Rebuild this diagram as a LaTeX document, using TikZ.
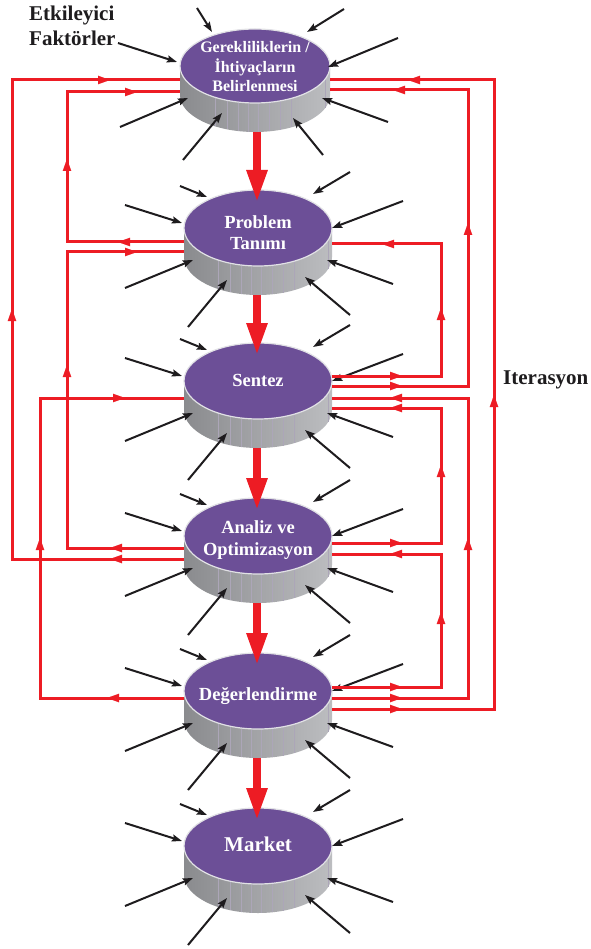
\documentclass[tikz,border=0pt]{standalone}
\usepackage{fontspec}
\setmainfont{Liberation Serif}
\usetikzlibrary{arrows.meta,calc}
\definecolor{dpurple}{RGB}{108,79,151}
\definecolor{dred}{RGB}{237,28,36}
\definecolor{sideL}{RGB}{138,139,142}
\definecolor{sideM}{RGB}{163,164,167}
\definecolor{sideR}{RGB}{188,189,192}
\definecolor{panelc}{RGB}{172,166,184}
\definecolor{blk}{RGB}{30,28,30}
\definecolor{rimc}{RGB}{225,225,229}

\newcommand\drawdisk[5]{%
  \shade[left color=sideL, middle color=sideM, right color=sideR]
    (#1-#3,#2) -- (#1-#3,#2+#5)
    arc[start angle=180,end angle=360,x radius=#3pt,y radius=#4pt]
    -- (#1+#3,#2)
    arc[start angle=0,end angle=-180,x radius=#3pt,y radius=#4pt] -- cycle;
  \foreach \dx in {-40,-28,-17,-7,3,14,25,36,70}{
    \pgfmathsetmacro\yt{#2+#4*sqrt(1-(\dx/#3)^2)}
    \draw[panelc, line width=0.45pt] (#1+\dx,\yt) -- (#1+\dx,\yt+#5);
  }
  \fill[dpurple] (#1,#2) ellipse[x radius=#3pt,y radius=#4pt];
  \draw[rimc, line width=1.2pt] (#1,#2) ellipse[x radius=#3pt,y radius=#4pt];
}

\begin{document}
\begin{tikzpicture}[x=1pt,y=-1pt,
  disklabel/.style={text=white, font=\bfseries\fontsize{18.5}{21}\selectfont, align=center, inner sep=0pt},
  rline/.style={draw=dred, line width=3pt},
  rtip/.style={draw=dred, fill=dred, line width=0.1pt, -{Triangle[length=12pt,width=8.5pt]}},
  bigarrow/.style={draw=dred, line width=8pt, -{Triangle[length=33pt,width=19pt]}},
  blkarrow/.style={draw=blk, line width=2pt, -{Stealth[length=10pt,width=7pt,inset=1.5pt]}},
  blacklabel/.style={text=blk, font=\bfseries\fontsize{21}{25}\selectfont, inner sep=0pt}
]
\useasboundingbox (0,0) rectangle (590,949);
\fill[white] (0,0) rectangle (590,949);

% disks
\drawdisk{255}{66}{75}{37}{29}
\drawdisk{258}{228}{74}{38}{29}
\drawdisk{258}{381}{74}{38}{29}
\drawdisk{258}{536}{74}{38}{29}
\drawdisk{258}{691}{74}{38}{29}
\drawdisk{258}{846}{74}{38}{29}

\coordinate (c1) at (255,66);
\coordinate (c2) at (258,228);
\coordinate (c3) at (258,381);
\coordinate (c4) at (258,536);
\coordinate (c5) at (258,691);
\coordinate (c6) at (258,846);

% labels
\node[disklabel, font=\bfseries\fontsize{16}{19.5}\selectfont] (d1) at (255,67) {Gerekliliklerin /\\İhtiyaçların\\Belirlenmesi};
\node[disklabel] (d2) at (258,232.4) {Problem\\Tanımı};
\node[disklabel] (d3) at (258,380) {Sentez};
\node[disklabel, font=\bfseries\fontsize{18.5}{22}\selectfont] (d4) at (258,540) {Analiz ve\\Optimizasyon};
\node[disklabel] (d5) at (258,696) {Değerlendirme};
\node[disklabel, font=\bfseries\fontsize{21}{25}\selectfont] (d6) at (258,844.6) {Market};
\node[blacklabel, anchor=west, align=left] (ef) at (29,25.5) {Etkileyici\\Faktörler};
\node[blacklabel, anchor=base west] (it) at (503,384) {Iterasyon};

% black influence arrows
\foreach \c in {c2,c3,c4,c5,c6}{
  \foreach \ax/\ay/\bx/\by in {-78/-42/-51/-31, -133/-23/-76/-5, -133/60/-65/32, -70/99/-31/52,
                              92/-56/55/-34, 145/-27/74/0, 135/56/69/32, 92/87/47/49}{
    \draw[blkarrow] ($(\c)+(\ax,\ay)$) -- ($(\c)+(\bx,\by)$);
  }
}
\foreach \ax/\ay/\bx/\by in {-58/-58/-43/-34, -137/-23/-78/-4, -135/61/-67/32, -72/94/-33/47,
                            89/-57/52/-34, 143/-28/73/1, 133/56/67/32, 68/89/38/52}{
  \draw[blkarrow] ($(c1)+(\ax,\ay)$) -- ($(c1)+(\bx,\by)$);
}

% ports
\coordinate (d1wA) at (180,80);  \coordinate (d1wB) at (180,92);
\coordinate (d2wA) at (184,242); \coordinate (d2wB) at (184,252);
\coordinate (d3wA) at (184,398);
\coordinate (d4wA) at (184,548); \coordinate (d4wB) at (184,559);
\coordinate (d5wA) at (184,698);
\coordinate (d1eA) at (330,80);  \coordinate (d1eB) at (330,90);
\coordinate (d2eA) at (332,244);
\coordinate (d3eA) at (332,376); \coordinate (d3eB) at (332,386);
\coordinate (d3eC) at (332,398); \coordinate (d3eD) at (332,408);
\coordinate (d4eA) at (332,543); \coordinate (d4eB) at (332,554);
\coordinate (d5eA) at (332,687); \coordinate (d5eB) at (332,698); \coordinate (d5eC) at (332,709);

% red iteration lines
\draw[rline] (d4wB) -- ++(-172,0) |- (d1wA);
\draw[rline] (d2wA) -- ++(-117,0) |- (d1wB);
\draw[rline] (d4wA) -- ++(-117,0) |- (d2wB);
\draw[rline] (d5wA) -- ++(-144,0) |- (d3wA);
\draw[rline] (d5eC) -- ++(162,0) |- (d1eA);
\draw[rline] (d3eB) -- ++(136,0) |- (d1eB);
\draw[rline] (d3eA) -- ++(109,0) |- (d2eA);
\draw[rline] (d5eB) -- ++(136,0) |- (d3eC);
\draw[rline] (d4eA) -- ++(109,0) |- (d3eD);
\draw[rline] (d5eA) -- ++(109,0) |- (d4eB);

% arrow tips: left side
\draw[rtip] (111,559) -- (110,559);
\draw[rtip] (12,310) -- (12,309);
\draw[rtip] (109,80) -- (110,80);
\draw[rtip] (119,242) -- (118,242);
\draw[rtip] (67,160) -- (67,159);
\draw[rtip] (136,92) -- (137,92);
\draw[rtip] (111,548) -- (110,548);
\draw[rtip] (67,366) -- (67,365);
\draw[rtip] (136,252) -- (137,252);
\draw[rtip] (108,698) -- (107,698);
\draw[rtip] (40,539) -- (40,538);
\draw[rtip] (124,398) -- (125,398);
% right side
\draw[rtip] (401,709) -- (402,709);
\draw[rtip] (494,396) -- (494,395);
\draw[rtip] (409,80) -- (408,80);
\draw[rtip] (401,386) -- (402,386);
\draw[rtip] (468,224) -- (468,223);
\draw[rtip] (394,90) -- (393,90);
\draw[rtip] (401,376) -- (402,376);
\draw[rtip] (441,309) -- (441,308);
\draw[rtip] (383,244) -- (382,244);
\draw[rtip] (401,698) -- (402,698);
\draw[rtip] (468,539) -- (468,538);
\draw[rtip] (391,398) -- (390,398);
\draw[rtip] (401,543) -- (402,543);
\draw[rtip] (441,466) -- (441,465);
\draw[rtip] (391,408) -- (390,408);
\draw[rtip] (401,687) -- (402,687);
\draw[rtip] (441,613) -- (441,612);
\draw[rtip] (391,554) -- (390,554);

% main flow arrows
\coordinate (f1s) at (257,132); \coordinate (f1e) at (257,203);
\coordinate (f2s) at (257,295); \coordinate (f2e) at (257,356);
\coordinate (f3s) at (257,448); \coordinate (f3e) at (257,511);
\coordinate (f4s) at (257,603); \coordinate (f4e) at (257,666);
\coordinate (f5s) at (257,758); \coordinate (f5e) at (257,821);
\draw[bigarrow] (f1s) -- (f1e);
\draw[bigarrow] (f2s) -- (f2e);
\draw[bigarrow] (f3s) -- (f3e);
\draw[bigarrow] (f4s) -- (f4e);
\draw[bigarrow] (f5s) -- (f5e);
\end{tikzpicture}
\end{document}
